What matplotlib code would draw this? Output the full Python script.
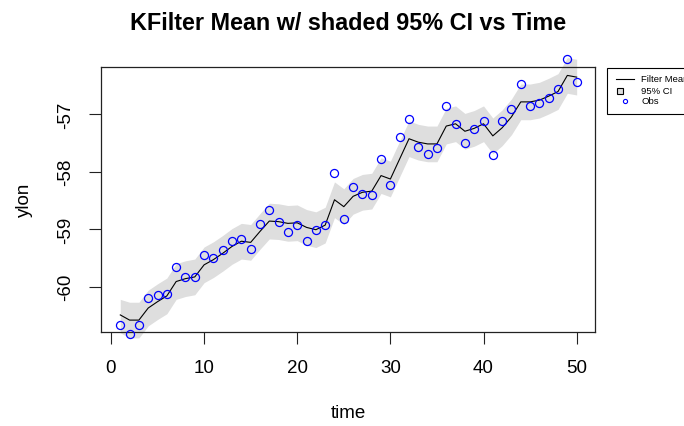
import matplotlib
matplotlib.use("Agg")
import matplotlib.pyplot as plt
from matplotlib.lines import Line2D
from matplotlib.patches import Rectangle

# ------------------------------------------------------------------
# Data
# ------------------------------------------------------------------
time = list(range(1, 51))

obs = [-60.66, -60.83, -60.66, -60.20, -60.14, -60.13, -59.66, -59.84, -59.83, -59.45,
       -59.51, -59.37, -59.20, -59.17, -59.34, -58.91, -58.67, -58.88, -59.05, -58.93,
       -59.21, -59.01, -58.93, -58.03, -58.83, -58.27, -58.39, -58.40, -57.79, -58.23,
       -57.40, -57.09, -57.57, -57.70, -57.59, -56.86, -57.17, -57.50, -57.26, -57.13,
       -57.71, -57.13, -56.91, -56.48, -56.86, -56.81, -56.73, -56.56, -56.04, -56.44]

filter_mean = [-60.49, -60.58, -60.58, -60.37, -60.26, -60.16, -59.91, -59.86, -59.83, -59.62,
               -59.53, -59.42, -59.30, -59.21, -59.23, -59.04, -58.86, -58.87, -58.90, -58.89,
               -58.97, -59.01, -58.93, -58.49, -58.61, -58.43, -58.36, -58.34, -58.07, -58.13,
               -57.78, -57.43, -57.49, -57.52, -57.52, -57.21, -57.17, -57.30, -57.25, -57.17,
               -57.38, -57.24, -57.05, -56.79, -56.79, -56.76, -56.69, -56.61, -56.33, -56.36]

ci_upper = [-60.22, -60.27, -60.27, -60.06, -59.95, -59.85, -59.60, -59.55, -59.52, -59.31,
            -59.22, -59.11, -58.99, -58.90, -58.92, -58.73, -58.55, -58.56, -58.59, -58.58,
            -58.66, -58.70, -58.62, -58.18, -58.30, -58.12, -58.05, -58.03, -57.76, -57.82,
            -57.47, -57.12, -57.18, -57.21, -57.21, -56.90, -56.86, -56.99, -56.94, -56.86,
            -57.07, -56.93, -56.74, -56.48, -56.48, -56.45, -56.38, -56.30, -56.02, -56.05]

ci_lower = [-60.80, -60.89, -60.89, -60.68, -60.57, -60.47, -60.22, -60.17, -60.14, -59.93,
            -59.84, -59.73, -59.61, -59.52, -59.54, -59.35, -59.17, -59.18, -59.21, -59.20,
            -59.28, -59.32, -59.24, -58.80, -58.92, -58.74, -58.67, -58.65, -58.38, -58.44,
            -58.09, -57.74, -57.80, -57.83, -57.83, -57.52, -57.48, -57.61, -57.56, -57.48,
            -57.69, -57.55, -57.36, -57.10, -57.10, -57.07, -57.00, -56.92, -56.64, -56.67]

x_ticks = [0, 10, 20, 30, 40, 50]
y_ticks = [-60, -59, -58, -57]

# ------------------------------------------------------------------
# Figure (684 x 427 px)
# ------------------------------------------------------------------
plt.rcParams['font.family'] = ['Liberation Sans', 'DejaVu Sans']
W, H = 684, 427
fig = plt.figure(figsize=(W / 100, H / 100), dpi=100)
ax = fig.add_axes([101 / W, 1 - 332.5 / H, (595 - 101) / W, (332.5 - 68) / H])

band_color = '#DEDEDE'
ax.fill_between(time, ci_lower, ci_upper, color=band_color, linewidth=0, clip_on=False, zorder=1)
ax.plot(time, filter_mean, color='black', linewidth=0.8, zorder=2)
ax.plot(time, obs, linestyle='none', marker='o', markersize=5.8, markerfacecolor='none',
        markeredgecolor='#0000FF', markeredgewidth=0.9, clip_on=False, zorder=3)

ax.set_xlim(-1.07, 51.97)
ax.set_ylim(-60.778, -56.184)
ax.set_xticks(x_ticks)
ax.set_yticks(y_ticks)
ax.set_yticklabels([str(v) for v in y_ticks], rotation=90, va='center')
ax.tick_params(axis='both', direction='out', length=8.5, width=0.8, labelsize=13.5,
               color='#222222')
ax.tick_params(axis='x', pad=11.5)
ax.tick_params(axis='y', pad=11)
for sp in ax.spines.values():
    sp.set_linewidth(0.9)
    sp.set_color('#222222')

# titles / labels placed like the R base plot
fig.text(348 / W, 1 - 23.5 / H, "KFilter Mean w/ shaded 95% CI vs Time",
         ha='center', va='center', fontsize=16.8, fontweight='bold')
fig.text(348 / W, 1 - 414 / H, "time", ha='center', va='center', fontsize=13.5)
fig.text(24.5 / W, 1 - 200 / H, "ylon", ha='center', va='center', fontsize=13.5, rotation=90)

# ------------------------------------------------------------------
# Legend box (cut off at the right edge like the reference)
# ------------------------------------------------------------------
def fx(px):
    return px / W


def fy(py):
    return 1 - py / H


fig.add_artist(Rectangle((fx(607), fy(115)), fx(720) - fx(607), fy(68.5) - fy(115),
                         transform=fig.transFigure, facecolor='white',
                         edgecolor='black', linewidth=0.8))
rows = [80, 91.5, 102]
fig.add_artist(Line2D([fx(616), fx(634)], [fy(rows[0])] * 2, transform=fig.transFigure,
                      color='black', linewidth=0.8))
fig.add_artist(Line2D([fx(619.5)], [fy(rows[1])], transform=fig.transFigure, marker='s',
                      markersize=4.6, markerfacecolor=band_color, markeredgecolor='black',
                      markeredgewidth=0.8, linestyle='none'))
fig.add_artist(Line2D([fx(624.5)], [fy(rows[2])], transform=fig.transFigure, marker='o',
                      markersize=3, markerfacecolor='none', markeredgecolor='#0000FF',
                      markeredgewidth=0.8, linestyle='none'))
for label, row in zip(["Filter Mean", "95% CI", "Obs"], rows):
    fig.text(fx(641), fy(row), label, ha='left', va='center', fontsize=6.8)

fig.savefig("out.png", dpi=100)
